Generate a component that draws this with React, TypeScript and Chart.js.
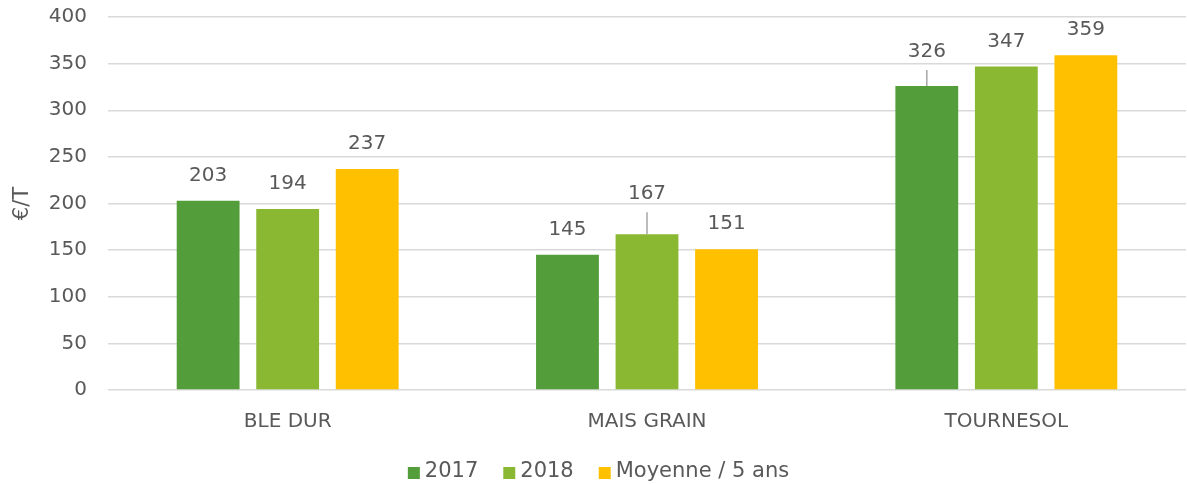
import React, { useEffect, useRef } from "react";
import { Chart, registerables } from "chart.js";

Chart.register(...registerables);

const categories = ["BLE DUR", "MAIS GRAIN", "TOURNESOL"];
const series2017 = [203, 145, 326];
const series2018 = [194, 167, 347];
const seriesMoyenne = [237, 151, 359];
const seriesNames = ["2017", "2018", "Moyenne / 5 ans"];
const yTicks = [0, 50, 100, 150, 200, 250, 300, 350, 400];

const COLORS = ["#539E3A", "#8AB833", "#FFC000"];
const TEXT = "#595959";
const FONT = "'DejaVu Sans', sans-serif";

// extra label lift (px) with leader line, keyed "dataset-index"
const LEADERS: Record<string, number> = { "0-2": 9, "1-1": 15 };

const labelPlugin = {
  id: "barLabels",
  afterDatasetsDraw(chart: any) {
    const ctx = chart.ctx;
    ctx.save();
    ctx.font = `20px ${FONT}`;
    ctx.fillStyle = TEXT;
    ctx.textAlign = "center";
    ctx.textBaseline = "middle";
    chart.data.datasets.forEach((ds: any, di: number) => {
      const meta = chart.getDatasetMeta(di);
      meta.data.forEach((bar: any, i: number) => {
        const extra = LEADERS[`${di}-${i}`] || 0;
        const cy = bar.y - 25 - extra;
        ctx.fillText(String(ds.data[i]), bar.x, cy);
        if (extra) {
          ctx.strokeStyle = "#A6A6A6";
          ctx.lineWidth = 1.5;
          ctx.beginPath();
          ctx.moveTo(bar.x, cy + 18);
          ctx.lineTo(bar.x, bar.y);
          ctx.stroke();
        }
      });
    });
    ctx.restore();
  },
};

const legendPlugin = {
  id: "customLegend",
  afterDraw(chart: any) {
    const ctx = chart.ctx;
    ctx.save();
    ctx.font = `21px ${FONT}`;
    ctx.textBaseline = "middle";
    ctx.textAlign = "left";
    const box = 12, gap = 5, spacing = 25;
    const items = chart.data.datasets.map((ds: any) => ({
      label: ds.label,
      color: ds.backgroundColor,
      w: ctx.measureText(ds.label).width,
    }));
    const total =
      items.reduce((a: number, it: any) => a + box + gap + it.w, 0) + spacing * (items.length - 1);
    let x = chart.width / 2 + 5 - total / 2;
    const y = chart.height - 12;
    items.forEach((it: any) => {
      ctx.fillStyle = it.color;
      ctx.fillRect(x, y - 5, box, box);
      ctx.fillStyle = TEXT;
      ctx.fillText(it.label, x + box + gap, y);
      x += box + gap + it.w + spacing;
    });
    ctx.restore();
  },
};

export default function App() {
  const ref = useRef<HTMLCanvasElement>(null);
  useEffect(() => {
    if (!ref.current) return;
    const chart = new Chart(ref.current, {
      type: "bar",
      data: {
        labels: categories,
        datasets: [series2017, series2018, seriesMoyenne].map((d, k) => ({
          label: seriesNames[k],
          data: d,
          backgroundColor: COLORS[k],
          categoryPercentage: 0.664,
          barPercentage: 0.79,
        })),
      },
      options: {
        animation: false,
        responsive: true,
        maintainAspectRatio: false,
        layout: { padding: { top: 0, right: 1, left: 0, bottom: 37 } },
        plugins: {
          legend: { display: false },
          tooltip: { enabled: false },
        },
        scales: {
          x: {
            grid: { display: false },
            border: { display: false },
            ticks: { color: TEXT, font: { family: FONT, size: 20 }, padding: 12 },
            afterFit: (s: any) => {
              s.height = 57;
            },
          },
          y: {
            min: 0,
            max: 400,
            afterBuildTicks: (s: any) => {
              s.ticks = yTicks.map((v) => ({ value: v }));
            },
            afterFit: (s: any) => {
              s.width = 108;
              s.paddingTop = 17;
              s.paddingBottom = 0;
            },
            grid: { color: "#D9D9D9", lineWidth: 1.5, drawTicks: false },
            border: { display: false },
            ticks: { color: TEXT, font: { family: FONT, size: 20 }, padding: 21 },
            title: {
              display: true,
              text: "€/T",
              color: TEXT,
              font: { family: FONT, size: 21 },
              padding: { top: 10, bottom: 6 },
            },
          },
        },
      },
      plugins: [labelPlugin, legendPlugin],
    });
    return () => chart.destroy();
  }, []);
  return (
    <div style={{ position: "fixed", left: 0, top: 0, width: 1187, height: 484 }}>
      <canvas ref={ref} />
    </div>
  );
}
